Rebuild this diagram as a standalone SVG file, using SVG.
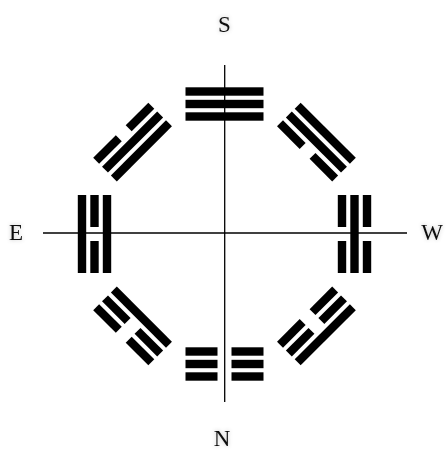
<svg xmlns="http://www.w3.org/2000/svg" xmlns:xlink="http://www.w3.org/1999/xlink" width="446" height="452" viewBox="0 0 446 452">
  <style>
    .axis { stroke: #000; stroke-width: 1.3; fill: none; }
    .bar { fill: #000; }
    .lbl { font-family: "Liberation Serif", "DejaVu Serif", serif; font-size: 23px; fill: #111; text-anchor: middle; }
  </style>
  <defs>
    <filter id="halo" x="-50%" y="-50%" width="200%" height="200%">
      <feGaussianBlur in="SourceAlpha" stdDeviation="2" result="b"/>
      <feFlood flood-color="#000" flood-opacity="0.25"/>
      <feComposite in2="b" operator="in" result="s"/>
      <feMerge><feMergeNode in="s"/><feMergeNode in="SourceGraphic"/></feMerge>
    </filter>
    <g id="solid1"><rect class="bar" x="-39" y="-121.7" width="78" height="8.4"/></g>
    <g id="solid2"><rect class="bar" x="-39" y="-134.2" width="78" height="8.4"/></g>
    <g id="solid3"><rect class="bar" x="-39" y="-146.7" width="78" height="8.4"/></g>
    <g id="broken1"><rect class="bar" x="-39" y="-121.7" width="32" height="8.4"/><rect class="bar" x="7" y="-121.7" width="32" height="8.4"/></g>
    <g id="broken2"><rect class="bar" x="-39" y="-134.2" width="32" height="8.4"/><rect class="bar" x="7" y="-134.2" width="32" height="8.4"/></g>
    <g id="broken3"><rect class="bar" x="-39" y="-146.7" width="32" height="8.4"/><rect class="bar" x="7" y="-146.7" width="32" height="8.4"/></g>
  </defs>

  <g id="connectors">
    <line class="axis" x1="224.7" y1="65" x2="224.7" y2="402"/>
    <line class="axis" x1="43" y1="233" x2="407" y2="233"/>
  </g>

  <g id="qian-south" transform="translate(224.5,234) rotate(0)">
    <use xlink:href="#solid1"/><use xlink:href="#solid2"/><use xlink:href="#solid3"/>
  </g>
  <g id="xun-southwest" transform="translate(224.5,234) rotate(45)">
    <use xlink:href="#broken1"/><use xlink:href="#solid2"/><use xlink:href="#solid3"/>
  </g>
  <g id="kan-west" transform="translate(224.5,234) rotate(90)">
    <use xlink:href="#broken1"/><use xlink:href="#solid2"/><use xlink:href="#broken3"/>
  </g>
  <g id="gen-northwest" transform="translate(224.5,234) rotate(135)">
    <use xlink:href="#broken1"/><use xlink:href="#broken2"/><use xlink:href="#solid3"/>
  </g>
  <g id="kun-north" transform="translate(224.5,234) rotate(180)">
    <use xlink:href="#broken1"/><use xlink:href="#broken2"/><use xlink:href="#broken3"/>
  </g>
  <g id="zhen-northeast" transform="translate(224.5,234) rotate(225)">
    <use xlink:href="#solid1"/><use xlink:href="#broken2"/><use xlink:href="#broken3"/>
  </g>
  <g id="li-east" transform="translate(224.5,234) rotate(270)">
    <use xlink:href="#solid1"/><use xlink:href="#broken2"/><use xlink:href="#solid3"/>
  </g>
  <g id="dui-southeast" transform="translate(224.5,234) rotate(315)">
    <use xlink:href="#solid1"/><use xlink:href="#solid2"/><use xlink:href="#broken3"/>
  </g>

  <g id="labels" filter="url(#halo)">
    <text class="lbl" x="224.5" y="32">S</text>
    <text class="lbl" x="222" y="446">N</text>
    <text class="lbl" x="16" y="240">E</text>
    <text class="lbl" x="432" y="240">W</text>
  </g>
</svg>
